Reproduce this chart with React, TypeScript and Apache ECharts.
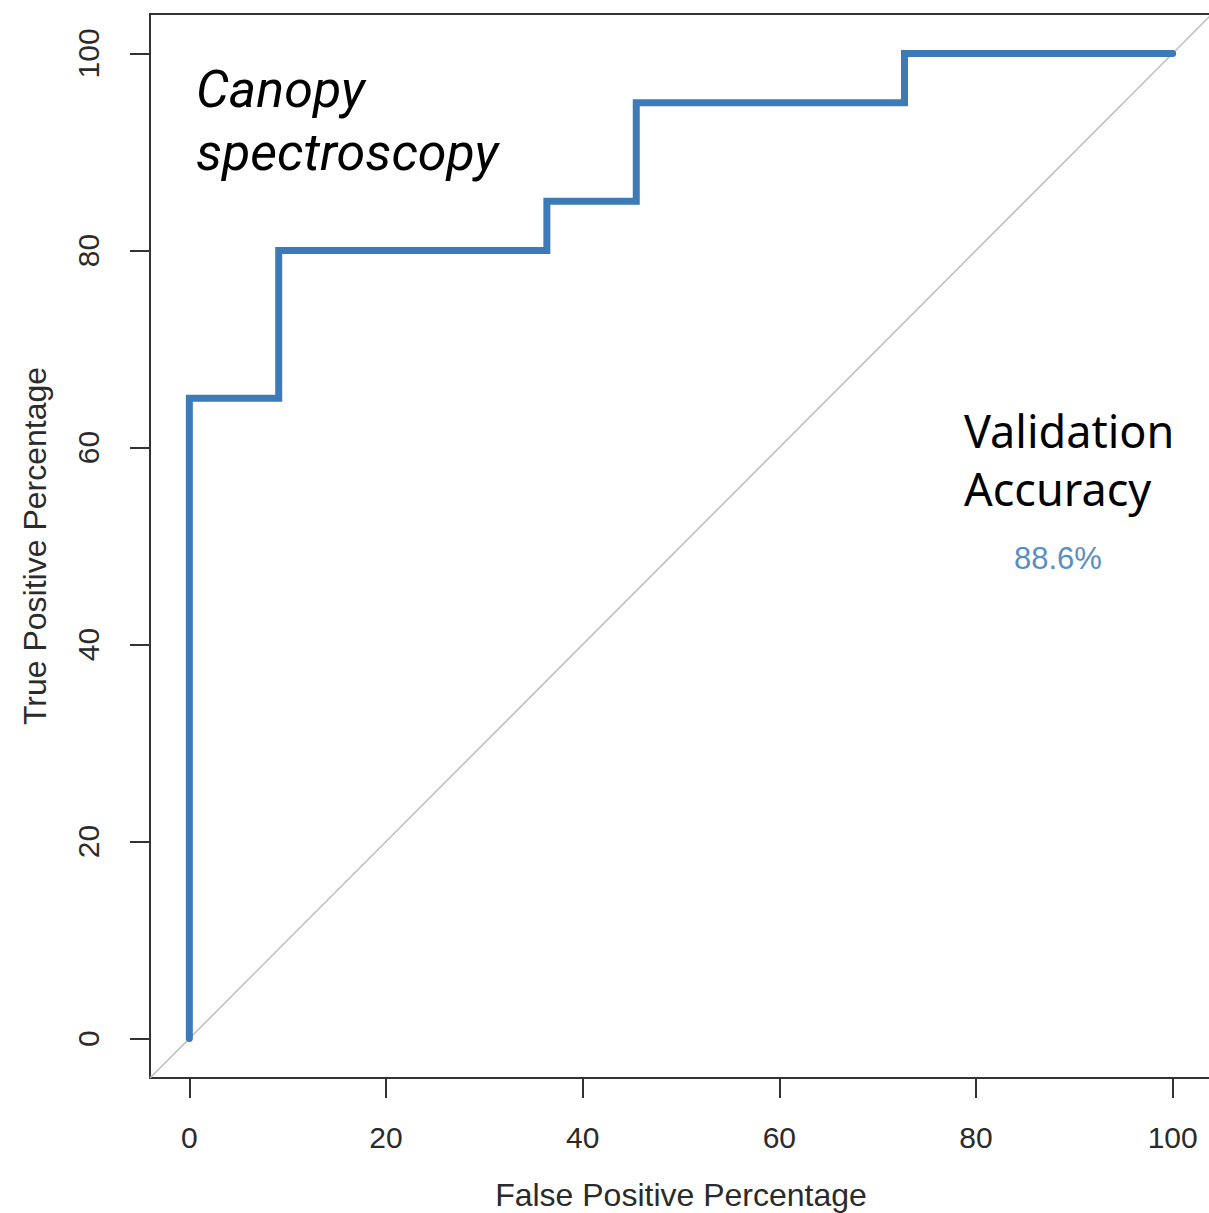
import React, { useEffect, useRef } from "react";
import * as echarts from "echarts";

// ROC curve points (false positive %, true positive %)
const fprValues = [0, 0, 9.09, 9.09, 36.36, 36.36, 45.45, 45.45, 72.73, 72.73, 100];
const tprValues = [0, 65, 65, 80, 80, 85, 85, 95, 95, 100, 100];
// reference diagonal (y = x) across the whole plot region
const diagonalValues = [-4, 104];
const tickValues = [0, 20, 40, 60, 80, 100];
const axisMin = -4;
const axisMax = 104;

const titleLines = ["Canopy", "spectroscopy"];
const accuracyLines = ["Validation", "Accuracy"];
const accuracyValue = "88.6%";

export default function App() {
  const ref = useRef<HTMLDivElement>(null);

  useEffect(() => {
    if (!ref.current) return;
    const chart = echarts.init(ref.current, null, { renderer: "svg" });
    const rocData = fprValues.map((x, i) => [x, tprValues[i]]);
    const diagData = diagonalValues.map((v) => [v, v]);
    const tickFont = "'Liberation Sans', Arial, Helvetica, sans-serif";
    const annFont = "'Noto Sans', sans-serif";
    const titleFont = "Roboto, 'Noto Sans', sans-serif";

    const textEl = (text: string, x: number, y: number, font: string, fill: string) => ({
      type: "text",
      x,
      y,
      style: { text, font, fill, verticalAlign: "middle", align: "left" },
    });

    chart.setOption({
      animation: false,
      backgroundColor: "#ffffff",
      grid: {
        left: 150,
        top: 14,
        width: 1062,
        height: 1064,
        outerBoundsMode: "none",
        containLabel: false,
        show: true,
        borderColor: "#333333",
        borderWidth: 2,
        backgroundColor: "transparent",
      },
      xAxis: {
        type: "value",
        min: axisMin,
        max: axisMax,
        axisLine: { show: false, onZero: false },
        splitLine: { show: false },
        axisTick: {
          show: true,
          customValues: tickValues,
          length: 20,
          lineStyle: { color: "#333333", width: 2 },
        },
        axisLabel: {
          customValues: tickValues,
          margin: 44,
          fontSize: 30,
          color: "#2b2b2b",
          fontFamily: tickFont,
        },
        name: "False Positive Percentage",
        nameLocation: "middle",
        nameGap: 101,
        nameTextStyle: { fontSize: 32, color: "#2b2b2b", fontFamily: tickFont },
      },
      yAxis: {
        type: "value",
        min: axisMin,
        max: axisMax,
        axisLine: { show: false, onZero: false },
        splitLine: { show: false },
        axisTick: {
          show: true,
          customValues: tickValues,
          length: 20,
          lineStyle: { color: "#333333", width: 2 },
        },
        axisLabel: {
          customValues: tickValues,
          margin: 47,
          rotate: 90,
          fontSize: 30,
          color: "#2b2b2b",
          fontFamily: tickFont,
        },
        name: "True Positive Percentage",
        nameLocation: "middle",
        nameGap: 99,
        nameTextStyle: { fontSize: 32, color: "#2b2b2b", fontFamily: tickFont },
      },
      series: [
        {
          type: "line",
          data: diagData,
          showSymbol: false,
          symbol: "none",
          silent: true,
          clip: true,
          lineStyle: { color: "#bdbdbd", width: 1.5 },
          z: 1,
        },
        {
          type: "line",
          data: rocData,
          showSymbol: false,
          symbol: "none",
          clip: true,
          lineStyle: { color: "#3d7bb8", width: 7, cap: "round", join: "miter" },
          z: 2,
        },
      ],
      graphic: [
        textEl(titleLines[0], 196, 89, `italic 400 52px ${titleFont}`, "#000000"),
        textEl(titleLines[1], 196, 152, `italic 400 52px ${titleFont}`, "#000000"),
        textEl(accuracyLines[0], 964, 430, `400 45px ${annFont}`, "#000000"),
        textEl(accuracyLines[1], 964, 488, `400 45px ${annFont}`, "#000000"),
        textEl(accuracyValue, 1014, 558, `400 31px ${tickFont}`, "#5a8ec2"),
      ],
    });
    return () => chart.dispose();
  }, []);

  return (
    <div style={{ position: "fixed", left: 0, top: 0, width: 1209, height: 1213, overflow: "hidden", background: "#fff" }}>
      <div ref={ref} style={{ width: 1230, height: 1213 }} />
    </div>
  );
}
